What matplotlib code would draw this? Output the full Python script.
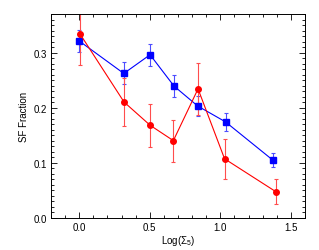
import numpy as np
import matplotlib
matplotlib.use("Agg")
import matplotlib.pyplot as plt
from matplotlib.ticker import MultipleLocator

# blue squares
x_blue = [0.0, 0.316, 0.502, 0.672, 0.839, 1.037, 1.37]
y_blue = [0.321, 0.262, 0.296, 0.239, 0.203, 0.174, 0.105]
e_blue = [0.020, 0.020, 0.020, 0.020, 0.018, 0.017, 0.013]

# red circles
x_red = [0.005, 0.318, 0.502, 0.667, 0.842, 1.03, 1.395]
y_red = [0.334, 0.210, 0.168, 0.140, 0.234, 0.107, 0.047]
e_red = [0.057, 0.044, 0.039, 0.038, 0.047, 0.036, 0.023]

plt.rcParams['font.family'] = ['Liberation Sans', 'DejaVu Sans']
plt.rcParams['mathtext.fontset'] = 'custom'
plt.rcParams['mathtext.rm'] = 'Liberation Sans'

fig = plt.figure(figsize=(3.19, 2.51), dpi=100)
ax = fig.add_axes([51 / 319, 1 - 218.7 / 251, 254 / 319, 203.7 / 251])

ax.errorbar(x_blue, y_blue, yerr=e_blue, color='#0000ff', lw=0.8, marker='s', ms=4.5,
            ecolor=(0.3, 0.3, 1.0), elinewidth=0.8, capsize=1.5, capthick=0.8)
ax.errorbar(x_red, y_red, yerr=e_red, color='#ff0000', lw=0.8, marker='o', ms=4,
            ecolor=(1.0, 0.3, 0.3), elinewidth=0.8, capsize=1.5, capthick=0.8)

ax.set_xlim(-0.2, 1.6)
ax.set_ylim(0.0, 0.37)
ax.xaxis.set_major_locator(MultipleLocator(0.5))
ax.xaxis.set_minor_locator(MultipleLocator(0.1))
ax.yaxis.set_major_locator(MultipleLocator(0.1))
ax.yaxis.set_minor_locator(MultipleLocator(0.01))
ax.xaxis.set_major_formatter(plt.FormatStrFormatter('%.1f'))
ax.yaxis.set_major_formatter(plt.FormatStrFormatter('%.1f'))
ax.tick_params(which='both', direction='in', top=True, right=True, labelsize=7,
               width=0.6, pad=3)
ax.tick_params(which='major', length=4)
ax.tick_params(which='minor', length=2)
for s in ax.spines.values():
    s.set_linewidth(0.7)

ax.set_xlabel(r'Log($\Sigma_5$)', fontsize=7, labelpad=1)
ax.set_ylabel('SF Fraction', fontsize=7, labelpad=3)

fig.savefig('out.png', dpi=100)
